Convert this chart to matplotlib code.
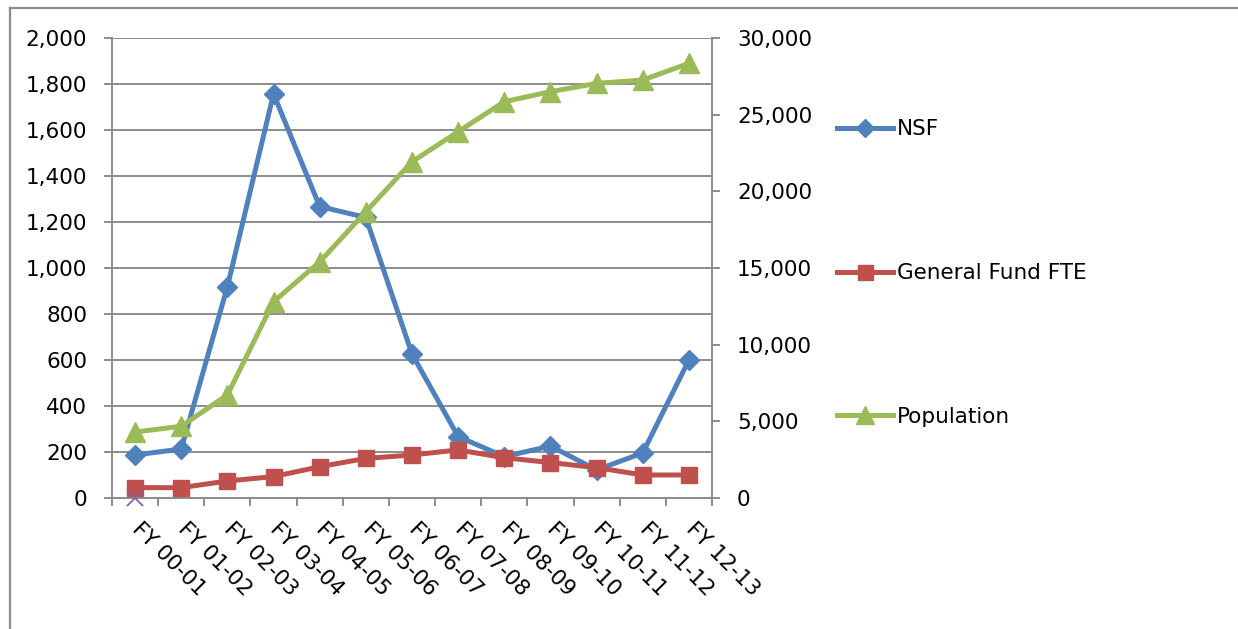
import matplotlib
matplotlib.use('Agg')
import matplotlib.pyplot as plt
from matplotlib.lines import Line2D
from matplotlib.ticker import FuncFormatter, MultipleLocator

# data per fiscal year
categories = ['FY 00-01', 'FY 01-02', 'FY 02-03', 'FY 03-04', 'FY 04-05', 'FY 05-06', 'FY 06-07',
              'FY 07-08', 'FY 08-09', 'FY 09-10', 'FY 10-11', 'FY 11-12', 'FY 12-13']
nsf = [187, 213, 919, 1757, 1267, 1220, 626, 267, 180, 226, 122, 196, 600]
gf_fte = [45, 45, 74, 93, 136, 172, 187, 209, 175, 154, 132, 100, 100]
population = [4300, 4680, 6720, 12800, 15400, 18670, 21930, 23890, 25850, 26500, 27040, 27260, 28350]
series4 = [0]

plt.rcParams['font.family'] = ['DejaVu Sans']
GRAY = '#8c8c8c'
BLUE = '#4f81bd'
RED = '#c0504d'
GREEN = '#9bbb59'
PURPLE = '#8064a2'
FS = 15.5

fig = plt.figure(figsize=(12.38, 6.29), dpi=100, facecolor='white')
ax = fig.add_axes([112 / 1238, 1 - 498 / 629, 600 / 1238, 460 / 629])
ax2 = ax.twinx()

x = list(range(len(categories)))

ax.plot(x, nsf, color=BLUE, lw=3.6, marker='D', ms=10, mec=BLUE, mfc=BLUE,
        solid_joinstyle='round', label='NSF', zorder=3)
ax.plot(x, gf_fte, color=RED, lw=3.6, marker='s', ms=12, mec=RED, mfc=RED,
        solid_joinstyle='round', label='General Fund FTE', zorder=4)
ax2.plot(x, population, color=GREEN, lw=3.6, marker='^', ms=14, mec=GREEN, mfc=GREEN,
         solid_joinstyle='round', label='Population', zorder=3)
ax2.plot(x[:len(series4)], series4, ls='none', marker='x', ms=11, mew=1.3, color=PURPLE,
         clip_on=False, zorder=5)

# left axis
ax.set_xlim(-0.5, len(categories) - 0.5)
ax.set_ylim(0, 2000)
ax.yaxis.set_major_locator(MultipleLocator(200))
ax.yaxis.set_major_formatter(FuncFormatter(lambda v, p: f'{int(v):,}'))
ax.grid(axis='y', color=GRAY, lw=1.4)
ax.set_axisbelow(True)

# right axis
ax2.set_ylim(0, 30000)
ax2.yaxis.set_major_locator(MultipleLocator(5000))
ax2.yaxis.set_major_formatter(FuncFormatter(lambda v, p: f'{int(v):,}'))

# category ticks between bins, labels at bin centres
ax.set_xticks(x)
ax.set_xticklabels(categories, rotation=-45, ha='left', va='center', rotation_mode='anchor')
ax.set_xticks([i - 0.5 for i in range(len(categories) + 1)], minor=True)
ax.tick_params(axis='x', which='major', length=0, pad=20, labelsize=FS)
ax.tick_params(axis='x', which='minor', length=6, width=1.4, color=GRAY, direction='out')
ax.tick_params(axis='y', length=6, width=1.4, color=GRAY, pad=12, labelsize=FS)
ax2.tick_params(axis='y', length=6, width=1.4, color=GRAY, pad=12, labelsize=FS)

for a in (ax, ax2):
    a.spines['top'].set_visible(False)
for s in ('left', 'bottom'):
    ax.spines[s].set_color(GRAY)
    ax.spines[s].set_linewidth(1.4)
ax.spines['right'].set_visible(False)
ax2.spines['left'].set_visible(False)
ax2.spines['bottom'].set_visible(False)
ax2.spines['right'].set_color(GRAY)
ax2.spines['right'].set_linewidth(1.4)

handles = ax.get_lines()[:2] + ax2.get_lines()[:1]
leg = fig.legend(handles, [h.get_label() for h in handles], loc='upper left',
                 bbox_to_anchor=(818 / 1238, 1 - 100 / 629), frameon=False, fontsize=FS,
                 labelspacing=5.75, handlelength=2.6, handletextpad=0.15, markerscale=0.9)

# chart area border
fig.add_artist(Line2D([10 / 1238, 10 / 1238], [0, 1 - 8 / 629], color=GRAY, lw=1.6))
fig.add_artist(Line2D([10 / 1238, 1], [1 - 8 / 629, 1 - 8 / 629], color=GRAY, lw=1.6))

fig.savefig('out.png', dpi=100)
